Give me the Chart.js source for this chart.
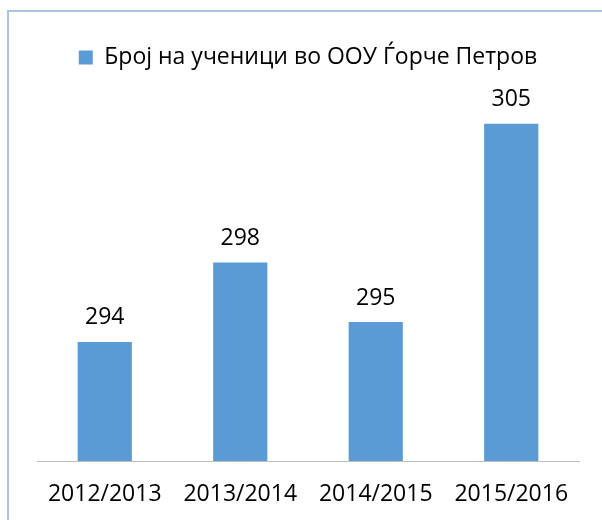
<!DOCTYPE html>
<html>
<head>
<meta charset="utf-8">
<script src="https://cdn.jsdelivr.net/npm/chart.js@4.4.1/dist/chart.umd.min.js"></script>
<style>
  html, body { margin: 0; padding: 0; background: #fff; }
  #chart { display: block; }
</style>
</head>
<body>
<canvas id="chart" width="602" height="520"></canvas>
<script>
const categories = ['2012/2013', '2013/2014', '2014/2015', '2015/2016'];
const students = [294, 298, 295, 305];
const seriesLabel = 'Број на ученици во ООУ Ѓорче Петров';

const FONT = '"Open Sans", "Noto Sans", sans-serif';

// light blue outline of the chart object (cropped on the right and bottom)
const frame = {
  id: 'frame',
  beforeDraw(chart) {
    const ctx = chart.ctx;
    ctx.save();
    ctx.strokeStyle = '#a9c4e4';
    ctx.lineWidth = 2;
    ctx.strokeRect(8, 11, 700, 600);
    ctx.restore();
  },
};

// value labels above each bar
const valueLabels = {
  id: 'valueLabels',
  afterDatasetsDraw(chart) {
    const ctx = chart.ctx;
    const meta = chart.getDatasetMeta(0);
    ctx.save();
    ctx.font = '23px ' + FONT;
    ctx.fillStyle = '#000';
    ctx.textAlign = 'center';
    ctx.textBaseline = 'middle';
    meta.data.forEach((bar, i) => {
      ctx.fillText(String(students[i]), bar.x, bar.y - 24);
    });
    ctx.restore();
  },
};

const ctx = document.getElementById('chart').getContext('2d');
new Chart(ctx, {
  type: 'bar',
  data: {
    labels: categories,
    datasets: [{
      label: seriesLabel,
      data: students,
      backgroundColor: '#5b9bd5',
      borderWidth: 0,
      categoryPercentage: 1,
      barPercentage: 0.4,
    }],
  },
  options: {
    responsive: false,
    animation: false,
    layout: { padding: { left: 37, right: 23, top: 36, bottom: 0 } },
    plugins: {
      legend: {
        position: 'top',
        labels: {
          color: '#000',
          font: { family: FONT, size: 23 },
          boxWidth: 14,
          boxHeight: 14,
          padding: 10,
        },
      },
      tooltip: { enabled: false },
    },
    scales: {
      y: {
        display: false,
        min: 288,
        max: 307.25,
      },
      x: {
        grid: { display: false },
        border: { color: '#bfbfbf', width: 1 },
        ticks: {
          color: '#000',
          font: { family: FONT, size: 23 },
          padding: 12,
          maxRotation: 0,
        },
        afterFit(scale) {
          scale.height = 59;
        },
      },
    },
  },
  plugins: [frame, valueLabels],
});
</script>
</body>
</html>
